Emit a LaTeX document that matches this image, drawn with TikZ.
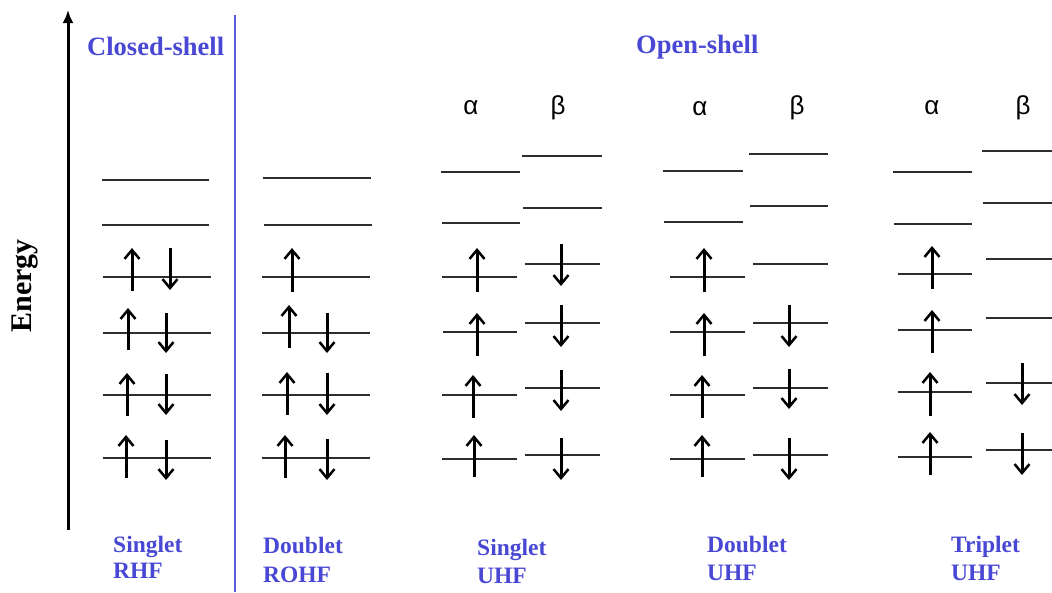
\documentclass[tikz,border=0pt]{standalone}
\usepackage{fontspec}
\setmainfont{Liberation Serif}
\newfontfamily\greekfont{Liberation Sans}
\usetikzlibrary{arrows.meta}
\definecolor{shellblue}{RGB}{72,72,212}
\definecolor{levelgray}{RGB}{45,45,45}

% one molecular-orbital level: x from, x to, height
\newcommand{\molevel}[3]{\draw[orbital] (#1,#3) -- (#2,#3);}
% spin arrows: x, tail y, tip y
\newcommand{\spinarrow}[3]{\draw[spin] (#1,#2) -- (#1,#3);}

\tikzset{
  orbital/.style={line width=1.6pt, draw=levelgray},
  spin/.style={line width=3pt, draw=black,
    -{Straight Barb[length=9pt,width=15pt,line width=2.5pt]}},
  headline/.style={font=\bfseries\fontsize{26.5}{30}\selectfont, text=shellblue,
    anchor=base west, inner sep=0pt},
  caption/.style={font=\bfseries\fontsize{23.5}{26}\selectfont, text=shellblue,
    anchor=base west, inner sep=0pt},
  spinlabel/.style={font=\greekfont\fontsize{26}{28}\selectfont, anchor=base, inner sep=0pt},
}

\begin{document}
\begin{tikzpicture}[x=1pt,y=-1pt]
\useasboundingbox (0,0) rectangle (1052,592);

% energy axis
\coordinate (axisbottom) at (68,530);
\coordinate (axistop) at (68,10);
\draw[line width=3pt, -{Latex[length=13pt,width=11pt]}] (axisbottom) -- (axistop);
\node[font=\bfseries\fontsize{30}{34}\selectfont, rotate=90, anchor=base, inner sep=0pt]
  (energy) at (31,286) {Energy};

% divider between closed- and open-shell
\coordinate (divtop) at (235,15);
\coordinate (divbottom) at (235,592);
\draw[line width=1.6pt, draw=shellblue!90] (divtop) -- (divbottom);

% headings
\node[headline] (closed) at (87,55) {Closed-shell};
\node[headline] (open) at (636,53) {Open-shell};

% spin labels
\node[spinlabel] (a1) at (471,114) {α};
\node[spinlabel] (b1) at (558,114) {β};
\node[spinlabel] (a2) at (700,115) {α};
\node[spinlabel] (b2) at (797,114) {β};
\node[spinlabel] (a3) at (932,114) {α};
\node[spinlabel] (b3) at (1023,114) {β};

% ---- singlet RHF ----
\molevel{102}{209}{180}
\molevel{102}{209}{225}
\molevel{103}{211}{277}
\molevel{103}{211}{333}
\molevel{103}{211}{395}
\molevel{103}{211}{458}
\spinarrow{132}{291}{248} \spinarrow{170}{248}{290}
\spinarrow{128}{350}{308} \spinarrow{166}{313}{353}
\spinarrow{127}{416}{373} \spinarrow{166}{374}{415}
\spinarrow{126}{478}{435} \spinarrow{166}{440}{480}

% ---- doublet ROHF ----
\molevel{263}{371}{178}
\molevel{264}{372}{225}
\molevel{262}{370}{277}
\molevel{262}{370}{333}
\molevel{262}{370}{395}
\molevel{262}{370}{458}
\spinarrow{292}{292}{248}
\spinarrow{289}{348}{305} \spinarrow{327}{313}{353}
\spinarrow{287}{415}{372} \spinarrow{327}{373}{415}
\spinarrow{285}{478}{435} \spinarrow{327}{439}{480}

% ---- singlet UHF ----
\molevel{441}{520}{172}
\molevel{442}{520}{223}
\molevel{442}{517}{277}
\molevel{443}{517}{332}
\molevel{442}{517}{395}
\molevel{442}{517}{459}
\molevel{522}{602}{156}
\molevel{523}{602}{208}
\molevel{525}{600}{264}
\molevel{525}{600}{323}
\molevel{525}{600}{388}
\molevel{525}{600}{455}
\spinarrow{477}{292}{248}
\spinarrow{477}{356}{313}
\spinarrow{473}{418}{375}
\spinarrow{474}{477}{435}
\spinarrow{561}{244}{286}
\spinarrow{561}{305}{347}
\spinarrow{561}{370}{411}
\spinarrow{561}{438}{480}

% ---- doublet UHF ----
\molevel{663}{743}{171}
\molevel{664}{743}{222}
\molevel{670}{745}{277}
\molevel{670}{745}{332}
\molevel{670}{745}{395}
\molevel{670}{745}{459}
\molevel{749}{828}{154}
\molevel{750}{828}{206}
\molevel{753}{828}{264}
\molevel{753}{828}{323}
\molevel{753}{828}{388}
\molevel{753}{828}{455}
\spinarrow{704}{292}{248}
\spinarrow{704}{356}{313}
\spinarrow{702}{418}{375}
\spinarrow{702}{477}{435}
\spinarrow{789}{305}{347}
\spinarrow{789}{369}{409}
\spinarrow{789}{438}{480}

% ---- triplet UHF ----
\molevel{893}{972}{172}
\molevel{894}{972}{224}
\molevel{898}{972}{274}
\molevel{898}{972}{330}
\molevel{898}{972}{392}
\molevel{898}{972}{457}
\molevel{982}{1052}{151}
\molevel{983}{1052}{203}
\molevel{986}{1052}{259}
\molevel{986}{1052}{318}
\molevel{986}{1052}{383}
\molevel{986}{1052}{450}
\spinarrow{932}{289}{246}
\spinarrow{932}{353}{310}
\spinarrow{930}{416}{372}
\spinarrow{930}{475}{432}
\spinarrow{1022}{363}{405}
\spinarrow{1022}{433}{475}

% method captions
\node[caption] (rhfspin) at (113,552) {Singlet};
\node[caption] (rhfname) at (113,578) {RHF};
\node[caption] (rohfspin) at (263,553) {Doublet};
\node[caption] (rohfname) at (263,582) {ROHF};
\node[caption] (uhfsspin) at (477,555) {Singlet};
\node[caption] (uhfsname) at (477,583) {UHF};
\node[caption] (uhfdspin) at (707,552) {Doublet};
\node[caption] (uhfdname) at (707,580) {UHF};
\node[caption] (uhftspin) at (951,552) {Triplet};
\node[caption] (uhftname) at (951,580) {UHF};
\end{tikzpicture}
\end{document}
